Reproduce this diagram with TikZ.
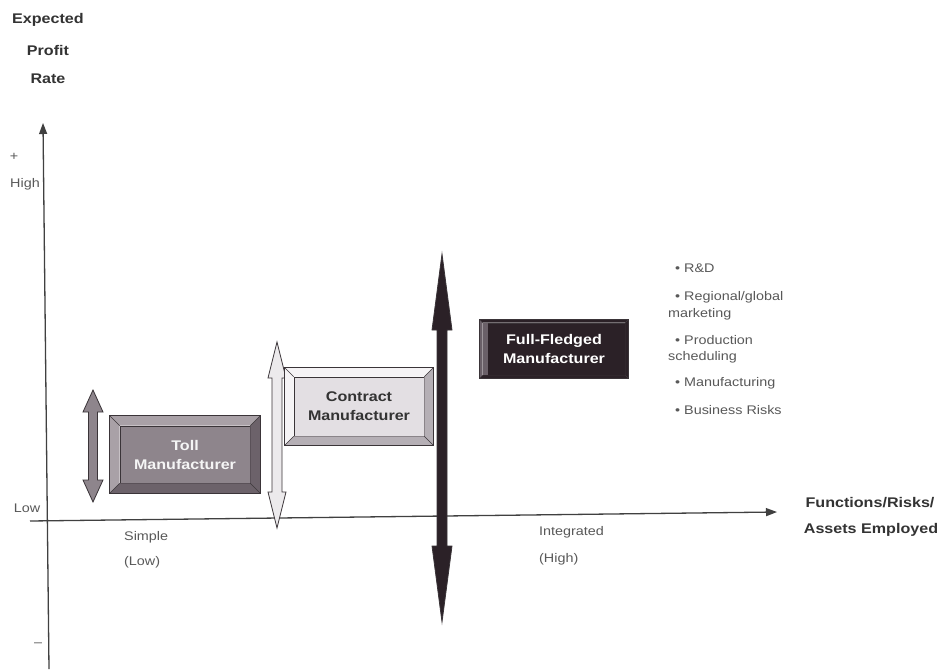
\documentclass[tikz,border=0pt]{standalone}
\usepackage{fontspec}
\setmainfont[FakeStretch=1.15]{Liberation Sans}
\usetikzlibrary{arrows.meta}
\definecolor{tollface}{HTML}{8E858C}
\definecolor{tolllight}{HTML}{A9A1A7}
\definecolor{tolldark}{HTML}{6C626A}
\definecolor{conface}{HTML}{E3DFE3}
\definecolor{conarrow}{HTML}{ECEAEC}
\definecolor{conlight}{HTML}{F5F3F5}
\definecolor{condark}{HTML}{B5AFB5}
\definecolor{fullface}{HTML}{2B2127}
\definecolor{fulllight}{HTML}{6A6068}
\definecolor{edge}{HTML}{3A3438}
\newcommand\bevelbox[6]{%
  \path (#1.north west) ++(-#2,-#2) coordinate (#1-onw);
  \path (#1.north east) ++(#2,-#2) coordinate (#1-one);
  \path (#1.south east) ++(#2,#2) coordinate (#1-ose);
  \path (#1.south west) ++(-#2,#2) coordinate (#1-osw);
  \fill[#3] (#1-onw) -- (#1-one) -- (#1.north east) -- (#1.north west) -- cycle;
  \fill[#4] (#1-osw) -- (#1-onw) -- (#1.north west) -- (#1.south west) -- cycle;
  \fill[#5] (#1-ose) -- (#1-osw) -- (#1.south west) -- (#1.south east) -- cycle;
  \fill[#6] (#1-one) -- (#1-ose) -- (#1.south east) -- (#1.north east) -- cycle;
  \draw[edge, line width=1pt] (#1-onw) rectangle (#1-ose);
  \draw[edge, line width=0.6pt] (#1-onw) -- (#1.north west) (#1-one) -- (#1.north east)
     (#1-ose) -- (#1.south east) (#1-osw) -- (#1.south west);
}
% double arrow: x, ytop, ybot, shaft half, head half, head length, fill
\newcommand\dblarr[7]{%
  \filldraw[fill=#7, draw=edge, line width=0.8pt, line join=miter]
   (#1,#2) -- (#1+#5,#2+#6) -- (#1+#4,#2+#6) -- (#1+#4,#3-#6) -- (#1+#5,#3-#6)
   -- (#1,#3) -- (#1-#5,#3-#6) -- (#1-#4,#3-#6) -- (#1-#4,#2+#6) -- (#1-#5,#2+#6) -- cycle;
}
\begin{document}
\begin{tikzpicture}[x=1pt,y=-1pt,
  lbl/.style={font=\fontsize{14}{19}\selectfont\bfseries, text=black!80, inner sep=0, align=center},
  small/.style={font=\fontsize{12.5}{14}\selectfont, text=black!65, inner sep=0},
  face/.style={draw=edge, line width=0.6pt, minimum width=#1, inner sep=0, align=center,
     font=\fontsize{14}{19}\selectfont\bfseries},
  axis/.style={draw=black!75, line width=1.3pt, -{Triangle[length=11pt,width=8pt]}}]
\useasboundingbox (0,0) rectangle (942,671);
\fill[white] (0,0) rectangle (942,671);

% axis titles
\node[lbl] (exp) at (48,20) {Expected};
\node[lbl] (prof) at (48,50) {Profit};
\node[lbl] (rate) at (48,79) {Rate};

% axes
\coordinate (yb) at (49,669);
\coordinate (yt) at (43,123);
\coordinate (xl) at (30,521);
\coordinate (xr) at (777,512);
\draw[axis] (yb) -- (yt);
\draw[axis] (xl) -- (xr);

% y labels
\node[small] (plus) at (14,157) {+};
\node[small] (high) at (25,184) {High};
\node[small] (low) at (27,508) {Low};
\node[small] (minus) at (38,645) {–};

% x labels
\node[small, anchor=west] (simple) at (124,537) {Simple};
\node[small, anchor=west] (lowx) at (124,562) {(Low)};
\node[small, anchor=west] (integ) at (539,532) {Integrated};
\node[small, anchor=west] (highx) at (539,559) {(High)};
\node[lbl] (func) at (870,503) {Functions/Risks/};
\node[lbl] (assets) at (871,530) {Assets Employed};

% double arrows
\dblarr{93}{390}{502}{4.5}{10}{22}{tollface}
\dblarr{277}{342}{528}{5}{9}{36}{conarrow}
\dblarr{442}{254}{622}{5}{10}{76}{fullface}

% boxes
\node[face=130pt, minimum height=57pt, fill=tollface, text=white!92!gray] (toll) at (185,454.5) {Toll\\Manufacturer};
\bevelbox{toll}{10}{tolllight}{tolllight}{tolldark}{tolldark}

\node[face=130pt, minimum height=59pt, fill=conface, text=black!80] (contract) at (359,406.5) {Contract\\Manufacturer};
\bevelbox{contract}{9}{conlight}{conlight}{condark}{condark}

\node[face=142pt, minimum height=52pt, fill=fullface, text=white] (full) at (554,349) {Full-Fledged\\Manufacturer};
\bevelbox{full}{3}{fullface}{fulllight}{fullface}{fullface}
\fill[fulllight] (full.north west) rectangle ++(5,52);

% functions list
\node[small, anchor=west] (b1) at (675,268) {• R\&D};
\node[small, anchor=west] (b2) at (675,297) {• Regional/global};
\node[small, anchor=west] (b2b) at (668,314) {marketing};
\node[small, anchor=west] (b3) at (675,340) {• Production};
\node[small, anchor=west] (b3b) at (668,357) {scheduling};
\node[small, anchor=west] (b4) at (675,383) {• Manufacturing};
\node[small, anchor=west] (b5) at (675,410) {• Business Risks};
\end{tikzpicture}
\end{document}
